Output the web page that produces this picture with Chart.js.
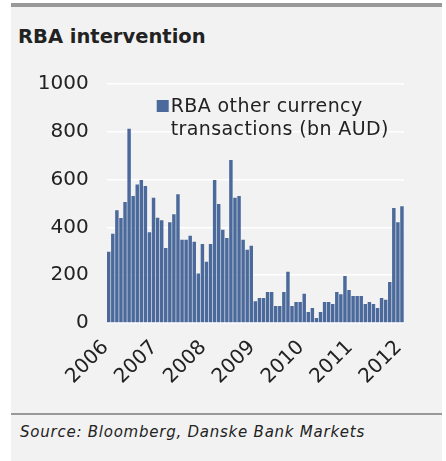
<!DOCTYPE html>
<html>
<head>
<meta charset="utf-8">
<script src="https://cdn.jsdelivr.net/npm/chart.js@4.4.0/dist/chart.umd.min.js"></script>
<style>
  body { margin: 0; width: 446px; height: 461px; overflow: hidden; position: relative; background: #fff; font-family: "DejaVu Sans", sans-serif; color: #222; }
  #panel { position: absolute; left: 11px; top: 3px; width: 431px; height: 454px; background: #f2f2f2; border-top: 4px solid #999; }
  #title { position: absolute; left: 18px; top: 26.5px; font-size: 19.5px; line-height: 19.5px; font-weight: bold; white-space: nowrap; }
  #rule { position: absolute; left: 11px; top: 413px; width: 431px; height: 2px; background: #999; }
  #source { position: absolute; left: 20px; top: 425.3px; font-size: 15px; line-height: 15px; font-style: italic; letter-spacing: 0.76px; white-space: nowrap; }
  #chart { position: absolute; left: 0; top: 0; }
</style>
</head>
<body>
<div id="panel"></div>
<div id="title">RBA intervention</div>
<div id="rule"></div>
<div id="source">Source: Bloomberg, Danske Bank Markets</div>
<canvas id="chart" width="446" height="461"></canvas>
<script>
// Years on the x axis; one bar per month from Jan 2006 to Jan 2012
const years = ['2006', '2007', '2008', '2009', '2010', '2011', '2012'];

// Monthly categories, e.g. "2006-01"
const months = [];
years.forEach(y => {
  for (let m = 1; m <= 12; m++) {
    if (y === '2012' && m > 1) break;
    months.push(y + '-' + String(m).padStart(2, '0'));
  }
});

// RBA other currency transactions, bn AUD
const transactions = [
  298, 373, 472, 439, 506, 813, 531, 580, 598, 573, 380, 524,  // 2006
  440, 430, 314, 422, 455, 539, 348, 348, 365, 340, 207, 331,  // 2007
  256, 331, 598, 498, 390, 356, 682, 524, 531, 348, 307, 323,  // 2008
  91, 105, 105, 130, 130, 71, 71, 130, 214, 71, 88, 88,        // 2009
  122, 46, 63, 21, 46, 88, 88, 80, 130, 120, 197, 138,         // 2010
  113, 113, 113, 80, 88, 80, 63, 105, 97, 172, 481, 422,       // 2011
  489                                                          // 2012
];

// Y axis ticks
const yTicks = [0, 200, 400, 600, 800, 1000];

// Legend text, two lines
const legendLines = ['RBA other currency', 'transactions (bn AUD)'];

const barColor = '#4b6a9b';
const textColor = '#222';

// Year labels at 45 degrees, placed at each January bar via the x scale
const yearLabelPlugin = {
  id: 'yearLabels',
  afterDraw(chart) {
    const { ctx, chartArea } = chart;
    const xScale = chart.scales.x;
    ctx.save();
    ctx.fillStyle = textColor;
    ctx.font = '20px "DejaVu Sans"';
    ctx.textAlign = 'right';
    ctx.textBaseline = 'alphabetic';
    years.forEach(y => {
      const idx = months.indexOf(y + '-01');
      if (idx < 0) return;
      const x = xScale.getPixelForValue(idx);
      ctx.save();
      ctx.translate(x + 0.5, chartArea.bottom + 25);
      ctx.rotate(-Math.PI / 4);
      ctx.fillText(y, 0, 0);
      ctx.restore();
    });
    ctx.restore();
  }
};

// Legend box with a two line label, drawn inside the plot
const legendPlugin = {
  id: 'boxLegend',
  afterDraw(chart) {
    const { ctx, chartArea } = chart;
    ctx.save();
    ctx.fillStyle = chart.data.datasets[0].backgroundColor;
    ctx.fillRect(chartArea.left + 50, chartArea.top + 16, 12, 12);
    ctx.fillStyle = textColor;
    ctx.font = '19px "DejaVu Sans"';
    ctx.letterSpacing = '0.4px';
    ctx.textAlign = 'left';
    ctx.textBaseline = 'alphabetic';
    legendLines.forEach((t, i) => {
      ctx.fillText(t, chartArea.left + 64, chartArea.top + 28 + i * 23);
    });
    ctx.letterSpacing = '0px';
    ctx.restore();
  }
};

const ctx = document.getElementById('chart').getContext('2d');
new Chart(ctx, {
  type: 'bar',
  data: {
    labels: months,
    datasets: [{
      label: legendLines.join(' '),
      data: transactions,
      backgroundColor: barColor,
      borderWidth: 0,
      barPercentage: 0.85,
      categoryPercentage: 1.0
    }]
  },
  options: {
    responsive: false,
    animation: false,
    layout: { padding: { top: 84, right: 42, bottom: 0, left: 0 } },
    plugins: {
      legend: { display: false },
      title: { display: false },
      tooltip: { enabled: false }
    },
    scales: {
      x: {
        grid: { display: false, drawTicks: false },
        border: { display: false },
        afterFit: scale => { scale.height = 138; },
        ticks: { display: false }
      },
      y: {
        min: 0,
        max: 1000,
        afterFit: scale => { scale.width = 106.7; },
        afterBuildTicks: scale => { scale.ticks = yTicks.map(v => ({ value: v })); },
        grid: { color: '#ffffff', lineWidth: 1.5, drawTicks: false },
        border: { display: false },
        ticks: {
          padding: 18,
          color: textColor,
          font: { family: 'DejaVu Sans', size: 20 },
          callback: v => String(v)
        }
      }
    }
  },
  plugins: [yearLabelPlugin, legendPlugin]
});
</script>
</body>
</html>
